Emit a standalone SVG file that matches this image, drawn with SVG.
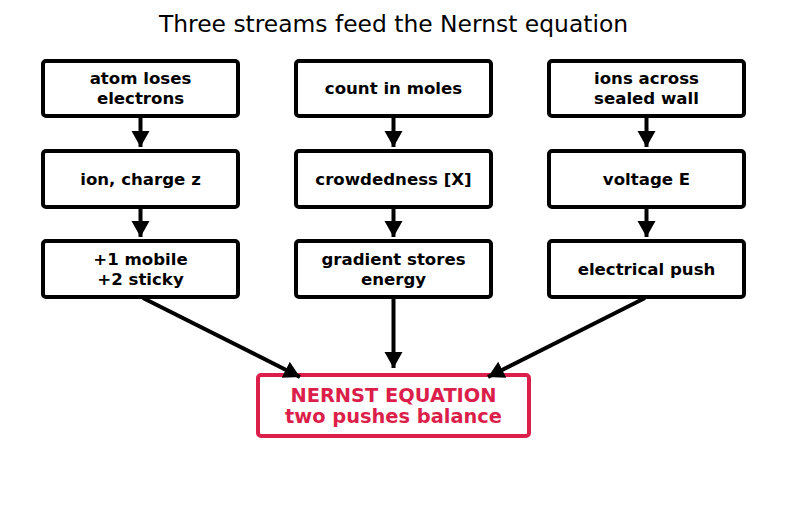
<svg xmlns="http://www.w3.org/2000/svg" width="787" height="510" viewBox="0 0 787 510">
<defs>
<marker id="ah" markerUnits="userSpaceOnUse" markerWidth="22" markerHeight="22" refX="16" refY="9" orient="auto">
<path d="M0,0 L16,9 L0,18 Z" fill="#000"/>
</marker>
<style>
.box{fill:#fff;stroke:#000;stroke-width:4}
.t{font-family:"DejaVu Sans",sans-serif;font-weight:bold;font-size:16.6px;text-anchor:middle;fill:#000}
.c{stroke:#000;stroke-width:4;fill:none;marker-end:url(#ah)}
.fin{fill:#fff;stroke:#dc1e4b;stroke-width:4}
.ft{font-family:"DejaVu Sans",sans-serif;font-weight:bold;font-size:19.4px;text-anchor:middle;fill:#dc1e4b}
</style>
</defs>
<rect width="787" height="510" fill="#fff"/>
<text x="393.5" y="32" font-family="DejaVu Sans, sans-serif" font-size="23.4" text-anchor="middle" fill="#000">Three streams feed the Nernst equation</text>
<g id="n1"><rect class="box" x="43" y="61" width="195" height="55" rx="3"/><text class="t" x="140.5" y="84">atom loses</text><text class="t" x="140.5" y="104">electrons</text></g>
<g id="n2"><rect class="box" x="43" y="151" width="195" height="56" rx="3"/><text class="t" x="140.5" y="185">ion, charge z</text></g>
<g id="n3"><rect class="box" x="43" y="241" width="195" height="56" rx="3"/><text class="t" x="140.5" y="265">+1 mobile</text><text class="t" x="140.5" y="285">+2 sticky</text></g>
<g id="n4"><rect class="box" x="296" y="61" width="195" height="55" rx="3"/><text class="t" x="393.5" y="94">count in moles</text></g>
<g id="n5"><rect class="box" x="296" y="151" width="195" height="56" rx="3"/><text class="t" x="393.5" y="185">crowdedness [X]</text></g>
<g id="n6"><rect class="box" x="296" y="241" width="195" height="56" rx="3"/><text class="t" x="393.5" y="265">gradient stores</text><text class="t" x="393.5" y="285">energy</text></g>
<g id="n7"><rect class="box" x="549" y="61" width="195" height="55" rx="3"/><text class="t" x="646.5" y="84">ions across</text><text class="t" x="646.5" y="104">sealed wall</text></g>
<g id="n8"><rect class="box" x="549" y="151" width="195" height="56" rx="3"/><text class="t" x="646.5" y="185">voltage E</text></g>
<g id="n9"><rect class="box" x="549" y="241" width="195" height="56" rx="3"/><text class="t" x="646.5" y="275">electrical push</text></g>
<g id="n10"><rect class="fin" x="258" y="375" width="271" height="61" rx="3"/><text class="ft" x="393.5" y="402">NERNST EQUATION</text><text class="ft" x="393.5" y="423">two pushes balance</text></g>
<g id="connectors">
<line class="c" x1="140.5" y1="117" x2="140.5" y2="147"/>
<line class="c" x1="140.5" y1="208" x2="140.5" y2="237"/>
<line class="c" x1="393.5" y1="117" x2="393.5" y2="147"/>
<line class="c" x1="393.5" y1="208" x2="393.5" y2="237"/>
<line class="c" x1="646.5" y1="117" x2="646.5" y2="147"/>
<line class="c" x1="646.5" y1="208" x2="646.5" y2="237"/>
<line class="c" x1="143" y1="298" x2="300" y2="377"/>
<line class="c" x1="393.5" y1="298" x2="393.5" y2="368"/>
<line class="c" x1="645" y1="298" x2="488" y2="377"/>
</g>
</svg>
